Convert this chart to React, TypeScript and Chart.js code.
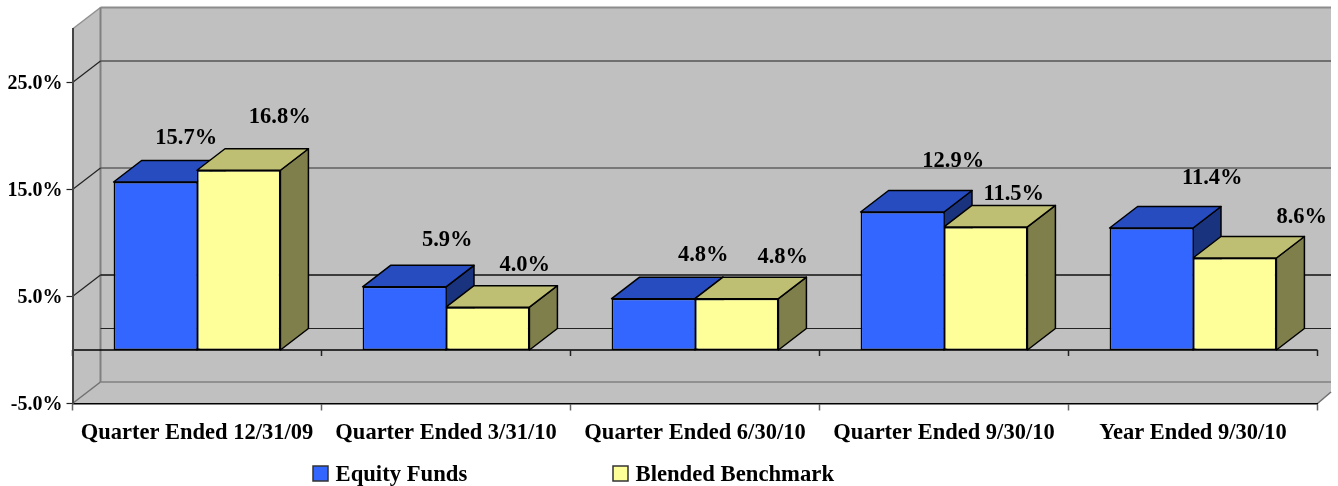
import React, { useEffect, useRef } from "react";
import { Chart, registerables } from "chart.js";

Chart.register(...registerables);

const categories = [
  "Quarter Ended 12/31/09",
  "Quarter Ended 3/31/10",
  "Quarter Ended 6/30/10",
  "Quarter Ended 9/30/10",
  "Year Ended 9/30/10",
];
const equityFunds = [15.7, 5.9, 4.8, 12.9, 11.4];
const blendedBenchmark = [16.8, 4.0, 4.8, 11.5, 8.6];
const yTicks = [-5, 5, 15, 25];

const FONT = '"Liberation Serif", "Times New Roman", serif';
const DX = 28;
const DY = -21.5;
const WALL = "#C0C0C0";
const faces = [
  { front: "#3366FF", top: "#264CBF", side: "#19337F" },
  { front: "#FFFF99", top: "#BFBF73", side: "#7F7F4C" },
];
// hand-placed label offsets from the top centre of each bar
const labelOffsets = [
  [[31, -44], [43, -47], [50, -43], [51, -51], [61, -50]],
  [[41, -53], [37, -42], [46, -41], [28, -33], [67, -41]],
];

function line(ctx: any, x1: number, y1: number, x2: number, y2: number, color: string, w: number) {
  ctx.strokeStyle = color;
  ctx.lineWidth = w;
  ctx.beginPath();
  ctx.moveTo(x1, y1);
  ctx.lineTo(x2, y2);
  ctx.stroke();
}

function poly(ctx: any, pts: number[][], fill: string, stroke?: string, w = 1.5) {
  ctx.beginPath();
  pts.forEach((p, i) => (i ? ctx.lineTo(p[0], p[1]) : ctx.moveTo(p[0], p[1])));
  ctx.closePath();
  ctx.fillStyle = fill;
  ctx.fill();
  if (stroke) {
    ctx.strokeStyle = stroke;
    ctx.lineWidth = w;
    ctx.lineJoin = "round";
    ctx.stroke();
  }
}

const scene = {
  id: "scene3d",
  beforeDraw(chart: any) {
    const { ctx, chartArea: a, scales } = chart;
    const y = scales.y;
    const edge = 1331;
    ctx.save();
    const top = a.top;
    const bot = a.bottom;
    // walls and floor
    poly(ctx, [[a.left, top], [a.left + DX, top + DY], [edge, top + DY], [edge, bot + DY + 10], [a.right, bot], [a.left, bot]], WALL);
    line(ctx, a.left, top, a.left + DX, top + DY, "#909090", 1.5);
    line(ctx, a.left + DX, top + DY, edge, top + DY, "#8C8C8C", 2);
    line(ctx, a.left + DX, top + DY, a.left + DX, bot + DY, "#808080", 2);
    line(ctx, a.left, bot, a.left + DX, bot + DY, "#707070", 1.5);
    line(ctx, a.right, bot, edge, bot + DY + 10, "#707070", 1.5);
    // back wall grid, floor lines and their side-wall returns
    const gridColors: Record<number, string> = { 25: "#555555", 15: "#606060", 5: "#111111" };
    yTicks.forEach((v) => {
      const py = y.getPixelForValue(v);
      if (v > -5) {
        line(ctx, a.left + DX, py + DY, edge, py + DY, gridColors[v], 1.5);
        line(ctx, a.left, py, a.left + DX, py + DY, "#222222", 1.2);
      } else {
        line(ctx, a.left + DX, py + DY, edge, py + DY, "#808080", 1.5);
      }
    });
    const zero = y.getPixelForValue(0);
    line(ctx, a.left + DX, zero + DY, edge, zero + DY, "#222222", 1.2);
    // zero-plane front edge with its ticks
    line(ctx, a.left, zero, a.right, zero, "#000000", 1.5);
    const n = categories.length;
    for (let i = 0; i <= n; i++) {
      const px = a.left + ((a.right - a.left) * i) / n;
      line(ctx, px, zero, px, zero + 6, "#222222", 1.5);
    }
    ctx.restore();
  },
  beforeDatasetsDraw(chart: any) {
    const { ctx } = chart;
    ctx.save();
    categories.forEach((_, i) => {
      [0, 1].forEach((d) => {
        const b = chart.getDatasetMeta(d).data[i];
        const l = b.x - b.width / 2;
        const r = b.x + b.width / 2;
        poly(ctx, [[r, b.y], [r + DX, b.y + DY], [r + DX, b.base + DY], [r, b.base]], faces[d].side, "#000000");
        poly(ctx, [[l, b.y], [l + DX, b.y + DY], [r + DX, b.y + DY], [r, b.y]], faces[d].top, "#000000");
      });
    });
    ctx.restore();
  },
  afterDatasetsDraw(chart: any) {
    const { ctx, data } = chart;
    ctx.save();
    ctx.fillStyle = "#000000";
    ctx.textAlign = "center";
    ctx.textBaseline = "middle";
    ctx.font = `bold 22.5px ${FONT}`;
    data.datasets.forEach((ds: any, d: number) => {
      chart.getDatasetMeta(d).data.forEach((b: any, i: number) => {
        const [ox, oy] = labelOffsets[d][i];
        ctx.fillText(`${ds.data[i].toFixed(1)}%`, b.x + ox, b.y + oy);
      });
    });
    // legend
    const legendX = [313, 613];
    ctx.textAlign = "left";
    ctx.font = `bold 22.7px ${FONT}`;
    data.datasets.forEach((ds: any, d: number) => {
      ctx.fillStyle = ds.backgroundColor;
      ctx.fillRect(legendX[d], 466, 15, 15);
      ctx.strokeStyle = "#333333";
      ctx.lineWidth = 1.5;
      ctx.strokeRect(legendX[d], 466, 15, 15);
      ctx.fillStyle = "#000000";
      ctx.fillText(ds.label, legendX[d] + 22.5, 475);
    });
    ctx.restore();
  },
};

export default function App() {
  const ref = useRef<HTMLCanvasElement>(null);
  useEffect(() => {
    document.body.style.margin = "0";
    document.body.style.background = "#FFFFFF";
    const chart = new Chart(ref.current as HTMLCanvasElement, {
      type: "bar",
      data: {
        labels: categories,
        datasets: [
          {
            label: "Equity Funds",
            data: equityFunds,
            backgroundColor: faces[0].front,
            borderWidth: { top: 1.5, left: 1.5, bottom: 1.5, right: 0.5 },
          },
          { label: "Blended Benchmark", data: blendedBenchmark, backgroundColor: faces[1].front, borderWidth: 1.5 },
        ],
      },
      plugins: [scene],
      options: {
        responsive: false,
        animation: false,
        layout: { padding: { top: 29, right: 20.5, left: 0, bottom: 0 } },
        datasets: {
          bar: {
            categoryPercentage: 0.67,
            barPercentage: 1,
            borderColor: "#000000",
            borderSkipped: false,
          },
        },
        plugins: {
          legend: { display: false },
          tooltip: { enabled: false },
        },
        scales: {
          x: {
            offset: true,
            afterFit: (s: any) => {
              s.height = 82.5;
            },
            grid: {
              offset: true,
              drawOnChartArea: false,
              tickLength: 7,
              tickColor: "#666666",
              tickWidth: 1.5,
            },
            border: { color: "#000000", width: 1.5 },
            ticks: {
              autoSkip: false,
              maxRotation: 0,
              color: "#000000",
              padding: 9,
              font: { family: FONT, size: 22.5, weight: "bold" },
            },
          },
          y: {
            min: -5,
            max: 30,
            afterFit: (s: any) => {
              s.width = 72.5;
            },
            afterBuildTicks: (s: any) => {
              s.ticks = yTicks.map((value) => ({ value }));
            },
            grid: { drawOnChartArea: false, tickLength: 6, tickColor: "#222222", tickWidth: 1.2 },
            border: { color: "#444444", width: 2 },
            ticks: {
              color: "#000000",
              padding: 4,
              labelOffset: 1.5,
              callback: (v: any) => `${Number(v).toFixed(1)}%`,
              font: { family: FONT, size: 20, weight: "bold" },
            },
          },
        },
      } as any,
    });
    return () => chart.destroy();
  }, []);
  return <canvas ref={ref} width={1338} height={486} style={{ display: "block" }} />;
}
